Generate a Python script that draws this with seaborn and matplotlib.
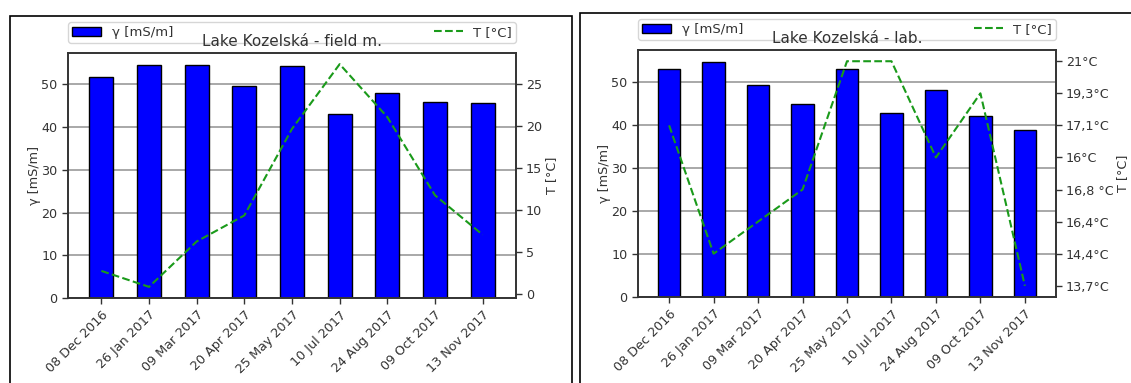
import numpy as np
import pandas as pd
import matplotlib
matplotlib.use("Agg")
import matplotlib.pyplot as plt
from matplotlib.patches import Rectangle
from matplotlib.lines import Line2D
import seaborn as sns

# ---------------- data ----------------
dates = ["08 Dec 2016", "26 Jan 2017", "09 Mar 2017", "20 Apr 2017", "25 May 2017",
         "10 Jul 2017", "24 Aug 2017", "09 Oct 2017", "13 Nov 2017"]

gamma_field = [51.8, 54.6, 54.5, 49.5, 54.3, 43.0, 48.0, 45.9, 45.6]
temp_field = [2.8, 0.9, 6.3, 9.4, 19.7, 27.4, 21.1, 11.8, 7.1]

gamma_lab = [53.0, 54.6, 49.1, 44.7, 52.9, 42.6, 48.0, 41.9, 38.8]
temp_lab = ["17,1°C", "14,4°C", "16,4°C", "16,8 °C", "21°C", "21°C", "16°C", "19,3°C", "13,7°C"]
temp_lab_order = ["13,7°C", "14,4°C", "16,4°C", "16,8 °C", "16°C", "17,1°C", "19,3°C", "21°C"]

titles = ["Lake Kozelská - field m.", "Lake Kozelská - lab."]
gamma_label = "γ [mS/m]"
temp_label = "T [°C]"

# ---------------- style ----------------
sns.set_style("ticks")
plt.rcParams["font.family"] = ["DejaVu Sans"]
TXT = "#333333"
plt.rcParams.update({
    "text.color": TXT, "axes.labelcolor": TXT,
    "xtick.color": TXT, "ytick.color": TXT,
    "axes.edgecolor": "#333333",
})

FS = 9.2

fig = plt.figure(figsize=(11.31, 3.83), dpi=100)
W, H = 1131, 383

# panel borders
for (x0, x1, y0) in [(10, 572, 16), (580, 1140, 13)]:
    fig.add_artist(Rectangle((x0 / W, -0.05), (x1 - x0) / W, (H - y0) / H + 0.05,
                             transform=fig.transFigure, fill=False,
                             edgecolor="black", linewidth=1.2))

positions = [
    [68 / W, (H - 298) / H, 448 / W, 245 / H],
    [638 / W, (H - 297) / H, 418 / W, 247 / H],
]

def make_panel(pos, gamma, temp_vals, title, cat_labels=None):
    ax = fig.add_axes(pos)
    df = pd.DataFrame({"date": dates, "gamma": gamma})
    sns.barplot(data=df, x="date", y="gamma", color="#0000ff", edgecolor="black",
                linewidth=1.0, width=0.5, saturation=1, ax=ax, zorder=2)
    ax.set_xlabel("")
    ax.set_ylabel(gamma_label, fontsize=FS, labelpad=0)
    ax.yaxis.grid(True, color="#999999", linewidth=1.2, zorder=0)
    ax.set_axisbelow(True)
    ax.set_yticks([0, 10, 20, 30, 40, 50])
    ax.tick_params(axis="both", labelsize=FS, width=1, length=4)
    ax.set_xticks(range(len(dates)))
    ax.set_xticklabels(dates, rotation=45, ha="right", rotation_mode="anchor")
    ax.set_xlim(-0.7, len(dates) - 0.3)
    ax.set_ylim(0, max(gamma) * 1.05)
    for s in ax.spines.values():
        s.set_linewidth(1.2)

    ax2 = ax.twinx()
    if cat_labels is None:
        yvals = temp_vals
    else:
        yvals = [cat_labels.index(s) for s in temp_vals]
    dft = pd.DataFrame({"i": np.arange(len(dates)), "T": yvals})
    sns.lineplot(data=dft, x="i", y="T", color="#1a9a1a", linestyle="--",
                 linewidth=1.5, ax=ax2)
    ax2.set_ylabel(temp_label, fontsize=FS, labelpad=2)
    ax2.tick_params(axis="y", labelsize=FS, width=1, length=4, pad=3)
    if cat_labels is not None:
        ax2.set_yticks(range(len(cat_labels)))
        ax2.set_yticklabels(cat_labels)
    else:
        ax2.set_yticks([0, 5, 10, 15, 20, 25])
    for s in ax2.spines.values():
        s.set_linewidth(1.2)
    ax2.set_xlim(-0.7, len(dates) - 0.3)

    handles = [Rectangle((0, 0), 1, 1, facecolor="#0000ff", edgecolor="black", linewidth=1.0),
               Line2D([0], [0], color="#1a9a1a", linestyle="--", linewidth=1.5)]
    hgt = pos[3] * H
    leg = ax2.legend(handles, [gamma_label, temp_label], loc="lower left",
                     bbox_to_anchor=(0, 1 + 10 / hgt, 1, 0.05), mode="expand",
                     ncol=2, borderaxespad=0, fontsize=9.5, handlelength=2.2,
                     borderpad=0.3)
    leg.set_zorder(4)
    t = ax2.set_title(title, fontsize=11, pad=5)
    t.set_zorder(10)
    return ax, ax2

make_panel(positions[0], gamma_field, temp_field, titles[0])
make_panel(positions[1], gamma_lab, temp_lab, titles[1], cat_labels=temp_lab_order)

fig.savefig("out.png", dpi=100)
